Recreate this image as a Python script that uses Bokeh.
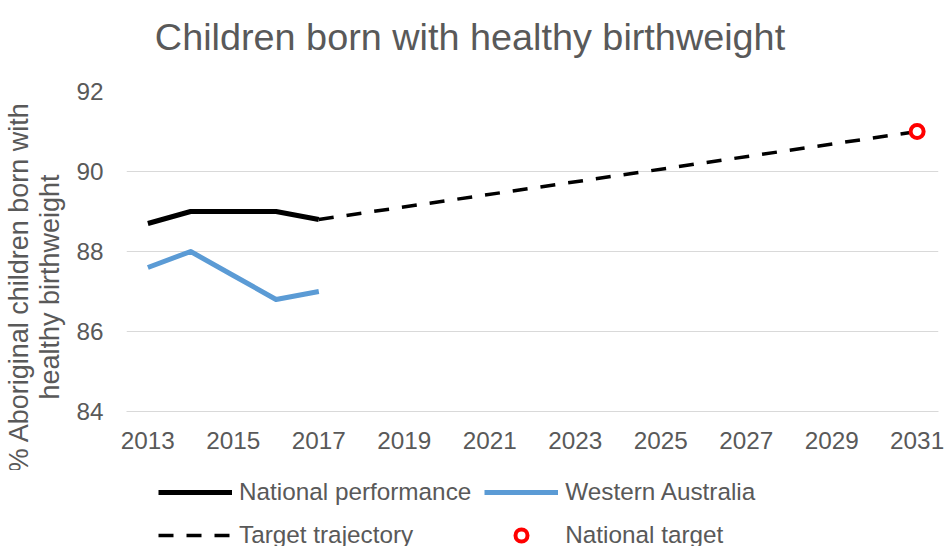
import math
from bokeh.plotting import figure
from bokeh.layouts import column, row
from bokeh.models import Range1d, FixedTicker, Legend, LegendItem, Label
from bokeh.embed import file_html
from bokeh.resources import INLINE

# ---- data ----
years_national = [2013, 2014, 2015, 2016, 2017]
national_performance = [88.7, 89.0, 89.0, 89.0, 88.8]
years_wa = [2013, 2014, 2015, 2016, 2017]
western_australia = [87.6, 88.0, 87.4, 86.8, 87.0]
years_trajectory = [2017, 2031]
target_trajectory = [88.8, 91.0]
target_year = [2031]
national_target = [91.0]
x_ticks = [2013, 2015, 2017, 2019, 2021, 2023, 2025, 2027, 2029, 2031]
y_ticks = [84, 86, 88, 90, 92]
series_labels = ["National performance", "Western Australia",
                 "Target trajectory", "National target"]
title_text = "Children born with healthy birthweight"
ylabel_lines = ["% Aboriginal children born with", "healthy birthweight"]

FONT = "Liberation Sans"
GREY = "#595959"

NAT_STYLE = dict(line_color="black", line_width=5, line_join="round")
WA_STYLE = dict(line_color="#5B9BD5", line_width=5, line_join="round")
TT_STYLE = dict(line_color="black", line_width=3.5, line_dash="15 13")
NT_STYLE = dict(marker="circle", size=13, line_color="#FF0000", line_width=4,
                fill_color="white")


def blank(width, height):
    f = figure(width=width, height=height, output_backend="svg",
               toolbar_location=None, x_axis_location=None,
               y_axis_location=None, min_border=0,
               x_range=Range1d(0, 1), y_range=Range1d(0, 1))
    f.outline_line_color = None
    f.background_fill_color = "white"
    f.border_fill_color = "white"
    f.grid.visible = False
    f.frame_align = False
    return f


# ---- title strip ----
p_top = blank(944, 77)
p_top.add_layout(Label(x=469.5, y=41, x_units="screen", y_units="screen",
                       text=title_text, text_align="center",
                       text_baseline="alphabetic", text_font=FONT,
                       text_font_size="37.8px", text_color=GREY))

# ---- y-axis title strip ----
MID_H = 393
p_left = blank(70, MID_H)
for xb, txt in zip([18, 49], ylabel_lines):
    p_left.add_layout(Label(x=xb, y=183.5, x_units="screen", y_units="screen",
                            angle=math.pi / 2, text=txt, text_align="center",
                            text_baseline="alphabetic", text_font=FONT,
                            text_font_size="27px", text_color=GREY))

# ---- main chart ----
p = figure(width=874, height=MID_H, output_backend="svg", toolbar_location=None,
           x_range=Range1d(2012.5, 2031.5), y_range=Range1d(84, 92),
           min_border_left=56, min_border_right=6, min_border_top=14,
           min_border_bottom=59)
p.frame_align = False
p.outline_line_color = None
p.background_fill_color = "white"
p.border_fill_color = "white"
p.xgrid.grid_line_color = None
p.ygrid.grid_line_color = "#D9D9D9"
p.ygrid.grid_line_width = 1
p.xaxis.ticker = FixedTicker(ticks=x_ticks)
p.yaxis.ticker = FixedTicker(ticks=y_ticks)
for ax in (p.xaxis, p.yaxis):
    ax.major_tick_line_color = None
    ax.minor_tick_line_color = None
    ax.major_tick_out = 0
    ax.major_tick_in = 0
    ax.minor_tick_out = 0
    ax.major_label_text_font = FONT
    ax.major_label_text_font_size = "24.3px"
    ax.major_label_text_color = GREY
p.xaxis.axis_line_color = "#D9D9D9"
p.yaxis.axis_line_color = None
p.xaxis.major_label_standoff = 20
p.yaxis.major_label_standoff = 23

p.line(years_national, national_performance, **NAT_STYLE)
p.line(years_wa, western_australia, **WA_STYLE)
p.line(years_trajectory, target_trajectory, **TT_STYLE)
p.scatter(target_year, national_target, **NT_STYLE)

# ---- legend strip (same series, drawn outside this strip's ranges) ----
p_leg = blank(944, 76)
l_nat = p_leg.line(years_national, national_performance, **NAT_STYLE)
l_wa = p_leg.line(years_wa, western_australia, **WA_STYLE)
l_tt = p_leg.line(years_trajectory, target_trajectory, **TT_STYLE)
l_nt = p_leg.scatter(target_year, national_target, **NT_STYLE)
legend = Legend(items=[LegendItem(label=lab, renderers=[r]) for lab, r in
                       zip(series_labels, [l_nat, l_wa, l_tt, l_nt])],
                location=(158, -4), orientation="horizontal", ncols=2)
legend.label_text_font = FONT
legend.label_text_font_size = "24.3px"
legend.label_text_color = GREY
legend.glyph_width = 74
legend.glyph_height = 30
legend.label_height = 30
legend.label_standoff = 7
legend.spacing = 13
legend.padding = 0
legend.margin = 0
legend.border_line_color = None
legend.background_fill_alpha = 0
p_leg.add_layout(legend, "center")

layout = column(p_top, row(p_left, p), p_leg)
open("out.html", "w").write(file_html(layout, INLINE))
